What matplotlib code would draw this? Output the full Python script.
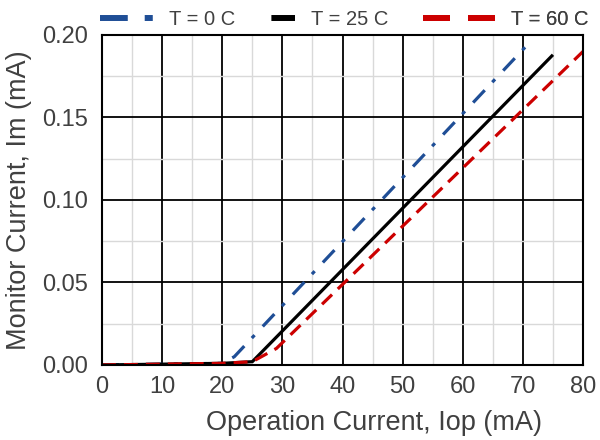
import numpy as np
import matplotlib
matplotlib.use('Agg')
import matplotlib.pyplot as plt
from matplotlib.lines import Line2D
from matplotlib.ticker import MultipleLocator

plt.rcParams['font.family'] = ['Liberation Sans', 'DejaVu Sans']
plt.rcParams['lines.scale_dashes'] = False

##################################################################
# Data (Iop in mA, Im in mA)
iop_0 = [0, 20, 22, 71]
im_0 = [0.000, 0.001, 0.005, 0.195]

iop_25 = [0, 20, 25, 75]
im_25 = [0.000, 0.001, 0.002, 0.188]

iop_60 = [0, 20, 25, 29, 80]
im_60 = [0.000, 0.001, 0.002, 0.010, 0.190]

labels = ['T = 0 C', 'T = 25 C', 'T = 60 C']
colors = ['#1f4e96', '#000000', '#cc0000']

xticks = [0, 10, 20, 30, 40, 50, 60, 70, 80]
yticks = [0.00, 0.05, 0.10, 0.15, 0.20]

textColor = '#404040'

##################################################################
fig = plt.figure(figsize=(6, 4.4), dpi=100)
ax = fig.add_axes([0.17, 0.1705, 0.8017, 0.75])

# Curves
ax.plot(iop_0, im_0, color=colors[0], lw=2.3,
        dashes=(12.2, 7.9, 2.9, 8.6), solid_capstyle='butt')
ax.plot(iop_25, im_25, color=colors[1], lw=2.3, solid_capstyle='butt')
ax.plot(iop_60, im_60, color=colors[2], lw=2.3, dashes=(10, 5.8))

ax.set_xlim(xticks[0], xticks[-1])
ax.set_ylim(yticks[0], yticks[-1])
ax.set_xticks(xticks)
ax.set_yticks(yticks)
ax.set_yticklabels(['{:.2f}'.format(v) for v in yticks])
ax.xaxis.set_minor_locator(MultipleLocator(5))
ax.yaxis.set_minor_locator(MultipleLocator(0.025))

# Grid
ax.grid(which='minor', color='#d9d9d9', lw=1.0, zorder=0)
ax.grid(which='major', color='black', lw=1.3, zorder=0.5)
ax.set_axisbelow(True)
for spine in ax.spines.values():
    spine.set_linewidth(1.5)
    spine.set_color('black')

ax.tick_params(which='both', length=0)
ax.tick_params(axis='x', labelsize=17, pad=8, labelcolor=textColor)
ax.tick_params(axis='y', labelsize=17, pad=10, labelcolor=textColor)

ax.set_xlabel('Operation Current, Iop (mA)', fontsize=19.5, color=textColor)
ax.set_ylabel('Monitor Current, Im (mA)', fontsize=19.5, color=textColor)
ax.xaxis.set_label_coords(0.565, -0.135)
ax.yaxis.set_label_coords(-0.145, 0.5)

##################################################################
# Legend (one per entry, Excel style samples)
legendSpecs = [
    # handle, x anchor, handlelength
    (Line2D([], [], color=colors[0], lw=4.3, dashes=(20, 12.2, 5.8, 40)), -0.004, 2.64),
    (Line2D([], [], color=colors[1], lw=4.3, dashes=(0, 1, 18, 60)), 0.349, 1.25),
    (Line2D([], [], color=colors[2], lw=4.3, dashes=(19.4, 13, 19.4, 40)), 0.667, 3.58),
]
for (handle, xAnchor, hl), label in zip(legendSpecs, labels):
    leg = ax.legend([handle], [label], loc='center left',
                    bbox_to_anchor=(xAnchor, 1.048), frameon=False,
                    fontsize=14.5, handlelength=hl, handletextpad=0.8,
                    borderpad=0, borderaxespad=0, labelcolor=textColor)
    ax.add_artist(leg)

fig.savefig('out.png', dpi=100)
